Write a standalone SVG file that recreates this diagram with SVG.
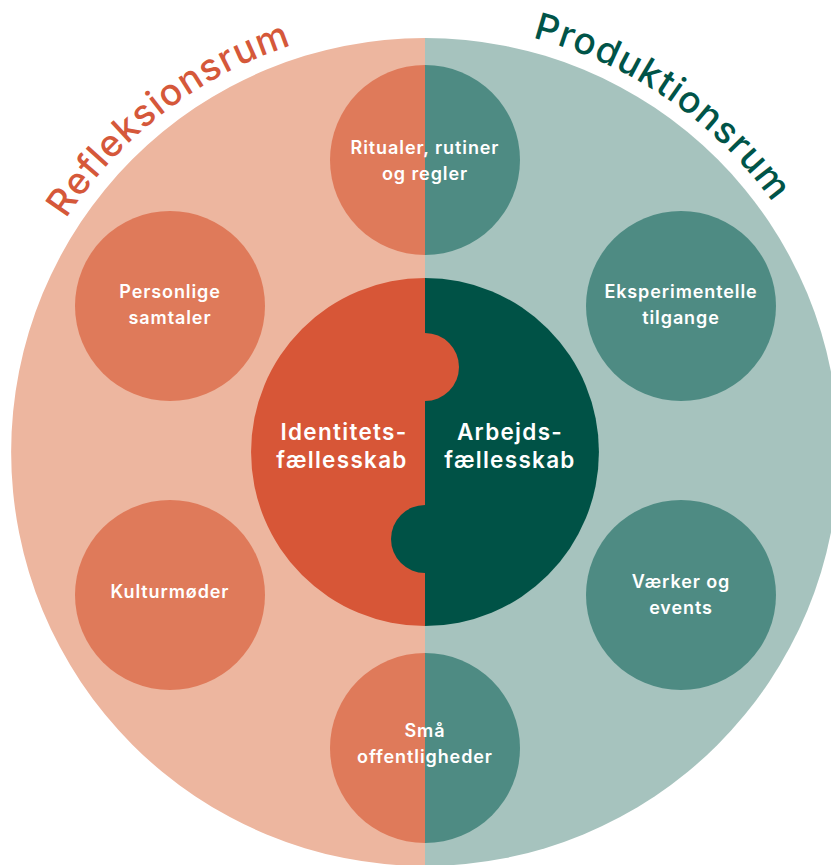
<svg xmlns="http://www.w3.org/2000/svg" width="831" height="865" viewBox="0 0 831 865">
<style>
.lbl{font-family:Inter,"Noto Sans","Liberation Sans",sans-serif;font-weight:600;font-size:18px;letter-spacing:0.9px;fill:#ffffff;text-anchor:middle}
.big{font-size:22.5px;letter-spacing:1.3px}
.title{font-family:Inter,"Noto Sans","Liberation Sans",sans-serif;font-weight:500;font-size:37px;letter-spacing:1.2px}
.lo{fill:#DF7A5A}.to{fill:#4E8B83}
</style>
<defs>
<path id="arcL" d="M-3,452 A428,428 0 0 1 853,452"/>
</defs>
<g id="background">
<path d="M425,38 A414,414 0 0 0 425,866 Z" fill="#EDB69F"/>
<path d="M425,38 A414,414 0 0 1 425,866 Z" fill="#A6C3BE"/>
</g>
<g id="titles">
<text class="title" fill="#D5583A"><textPath href="#arcL" startOffset="392" text-anchor="middle">Refleksionsrum</textPath></text>
<text class="title" fill="#005448"><textPath href="#arcL" startOffset="930" text-anchor="middle">Produktionsrum</textPath></text>
</g>
<g id="node-ritualer">
<path class="lo" d="M425,65 A95,95 0 0 0 425,255 Z"/>
<path class="to" d="M425,65 A95,95 0 0 1 425,255 Z"/>
<text class="lbl" x="425" y="154">Ritualer, rutiner</text>
<text class="lbl" x="425" y="180">og regler</text>
</g>
<g id="node-personlige">
<circle class="lo" cx="170" cy="306" r="95"/>
<text class="lbl" x="170" y="298">Personlige</text>
<text class="lbl" x="170" y="324">samtaler</text>
</g>
<g id="node-kultur">
<circle class="lo" cx="170" cy="595" r="95"/>
<text class="lbl" x="170" y="598">Kulturmøder</text>
</g>
<g id="node-eksperimentelle">
<circle class="to" cx="681" cy="306" r="95"/>
<text class="lbl" x="681" y="298">Eksperimentelle</text>
<text class="lbl" x="681" y="324">tilgange</text>
</g>
<g id="node-vaerker">
<circle class="to" cx="681" cy="595" r="95"/>
<text class="lbl" x="681" y="588">Værker og</text>
<text class="lbl" x="681" y="614">events</text>
</g>
<g id="node-smaa">
<path class="lo" d="M425,653 A95,95 0 0 0 425,843 Z"/>
<path class="to" d="M425,653 A95,95 0 0 1 425,843 Z"/>
<text class="lbl" x="425" y="737">Små</text>
<text class="lbl" x="425" y="763">offentligheder</text>
</g>
<g id="node-center">
<path d="M425,278 A174,174 0 0 0 425,626 Z" fill="#D75637"/>
<path d="M425,278 A174,174 0 0 1 425,626 Z" fill="#005246"/>
<path d="M425,333 A34,34 0 0 1 425,401 Z" fill="#D75637"/>
<path d="M425,505 A34,34 0 0 0 425,573 Z" fill="#005246"/>
<text class="lbl big" x="344" y="440">Identitets-</text>
<text class="lbl big" x="342" y="468">fællesskab</text>
<text class="lbl big" x="510" y="440">Arbejds-</text>
<text class="lbl big" x="510" y="468">fællesskab</text>
</g>
<g id="connectors"/>
</svg>
